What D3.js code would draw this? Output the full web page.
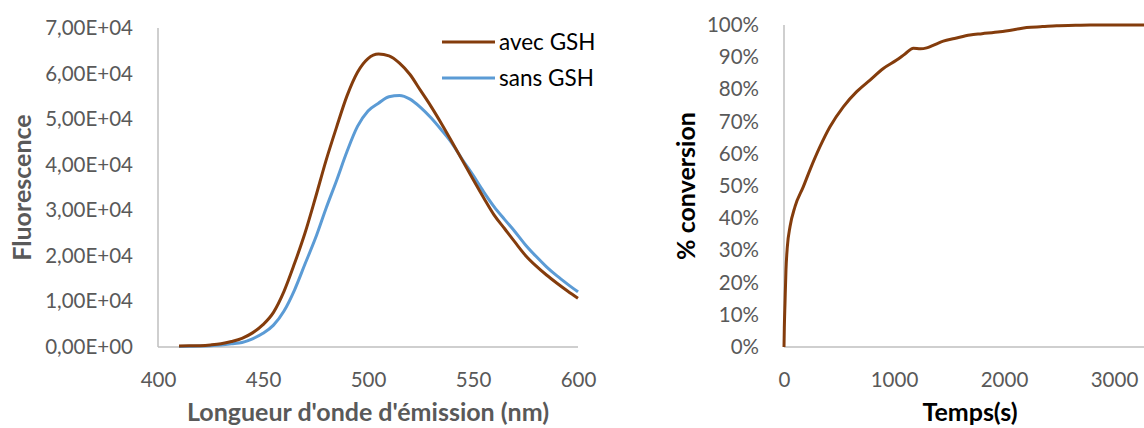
<!DOCTYPE html>
<html>
<head>
<meta charset="utf-8">
<script src="https://cdn.jsdelivr.net/npm/d3@7"></script>
<style>
  html, body { margin: 0; padding: 0; background: #fff; }
  svg { display: block; }
  text { font-family: Lato, "Open Sans", sans-serif; }
</style>
</head>
<body>
<svg id="chart" width="1144" height="428"></svg>
<script>
// ---------- Data: left panel (fluorescence spectra) ----------
const wavelengths = [410,415,420,425,430,435,440,445,450,455,460,465,470,475,480,485,490,495,500,505,510,515,520,525,530,535,540,545,550,555,560,565,570,575,580,585,590,595,600];
const avecGSH = [200,250,300,450,700,1200,1900,3100,4900,7600,12200,18300,25000,32800,40900,48200,55100,60300,63300,64300,63900,62300,59800,56300,52800,49000,45000,40900,36800,32800,29000,26000,23000,20100,17800,15800,14000,12300,10700];
const sansGSH = [100,150,200,300,450,700,1000,1800,3000,4800,7900,12500,18200,23900,30400,36500,42900,48400,51800,53500,54900,55200,54400,52600,50300,47600,44700,41100,37700,34100,30800,28000,25300,22400,19900,17600,15600,13800,12100];
const seriesNames = ["avec GSH", "sans GSH"];
const fluoTicks = [0,10000,20000,30000,40000,50000,60000,70000];
const lambdaTicks = [400,450,500,550,600];

// ---------- Data: right panel (conversion vs time) ----------
const times = [0,3,9,18,30,55,100,176,236,327,418,539,661,782,903,1024,1100,1176,1240,1297,1350,1448,1550,1691,1800,1964,2100,2206,2350,2479,2650,2782,3000,3236,3500];
const conversion = [0,6,13.5,24,31,37.4,43.6,49.8,55,62.2,68.4,74.6,79.3,82.9,86.5,89.1,91,92.8,92.6,92.9,93.6,95,95.8,96.9,97.3,97.9,98.6,99.2,99.5,99.8,99.9,100,100,100,100];
const convTicks = [0,10,20,30,40,50,60,70,80,90,100];
const timeTicks = [0,1000,2000,3000];

const colors = ["#843C0C", "#5B9BD5"];
const axisColor = "#BFBFBF";
const labelColor = "#595959";
const tickFont = "20.5px";
const titleFont = "25px";

const svg = d3.select("#chart");

function sci(d) {
  if (d === 0) return "0,00E+00";
  const e = Math.floor(Math.log10(d));
  const m = d / Math.pow(10, e);
  return m.toFixed(2).replace(".", ",") + "E+" + String(e).padStart(2, "0");
}

function styleAxis(g) {
  g.select(".domain").remove();
  g.selectAll(".tick line").remove();
  g.selectAll(".tick text").attr("fill", labelColor).style("font-size", tickFont).style("font-family", "Lato, sans-serif");
}

// ---------- Left panel ----------
const L = { left: 158, right: 578, top: 28, bottom: 347 };
const xL = d3.scaleLinear().domain([400, 600]).range([L.left, L.right]);
const yL = d3.scaleLinear().domain([0, 70000]).range([L.bottom, L.top]);

const gL = svg.append("g");
gL.append("line").attr("x1", L.left).attr("x2", L.left).attr("y1", L.top).attr("y2", L.bottom).attr("stroke", axisColor).attr("stroke-width", 1.5);
gL.append("line").attr("x1", L.left).attr("x2", L.right).attr("y1", L.bottom).attr("y2", L.bottom).attr("stroke", axisColor).attr("stroke-width", 1.5);

gL.append("g").attr("transform", `translate(${L.left - 22},0)`)
  .call(d3.axisLeft(yL).tickValues(fluoTicks).tickFormat(sci).tickSize(0))
  .call(styleAxis);
gL.append("g").attr("transform", `translate(0,${L.bottom + 22})`)
  .call(d3.axisBottom(xL).tickValues(lambdaTicks).tickFormat(d3.format("d")).tickSize(0))
  .call(styleAxis);

const lineL = (vals) => d3.line().x((d, i) => xL(wavelengths[i])).y(d => yL(d)).curve(d3.curveMonotoneX)(vals);
gL.append("path").attr("d", lineL(sansGSH)).attr("fill", "none").attr("stroke", colors[1]).attr("stroke-width", 3).attr("stroke-linejoin", "round");
gL.append("path").attr("d", lineL(avecGSH)).attr("fill", "none").attr("stroke", colors[0]).attr("stroke-width", 3).attr("stroke-linejoin", "round");

// legend
seriesNames.forEach((name, i) => {
  const y = 42 + i * 36;
  gL.append("line").attr("x1", 442).attr("x2", 495).attr("y1", y).attr("y2", y).attr("stroke", colors[i]).attr("stroke-width", 3);
  gL.append("text").attr("x", 499).attr("y", y).attr("dy", "0.35em").attr("fill", "#000").style("font-size", "22.5px").text(name);
});

// titles
gL.append("text").attr("x", (L.left + L.right) / 2).attr("y", 412).attr("dy", "0.35em").attr("text-anchor", "middle")
  .attr("fill", labelColor).style("font-size", titleFont).style("font-weight", "bold").text("Longueur d'onde d'émission (nm)");
gL.append("text").attr("transform", `translate(22,${(L.top + L.bottom) / 2}) rotate(-90)`).attr("dy", "0.35em").attr("text-anchor", "middle")
  .attr("fill", labelColor).style("font-size", titleFont).style("font-weight", "bold").text("Fluorescence");

// ---------- Right panel ----------
const R = { left: 784, right: 1169, top: 25, bottom: 347 };
const xR = d3.scaleLinear().domain([0, 3500]).range([R.left, R.right]);
const yR = d3.scaleLinear().domain([0, 100]).range([R.bottom, R.top]);

const gR = svg.append("g");
gR.append("line").attr("x1", R.left).attr("x2", R.left).attr("y1", R.top).attr("y2", R.bottom).attr("stroke", axisColor).attr("stroke-width", 1.5);
gR.append("line").attr("x1", R.left).attr("x2", R.right).attr("y1", R.bottom).attr("y2", R.bottom).attr("stroke", axisColor).attr("stroke-width", 1.5);

gR.append("g").attr("transform", `translate(${R.left - 22},0)`)
  .call(d3.axisLeft(yR).tickValues(convTicks).tickFormat(d => d + "%").tickSize(0))
  .call(styleAxis);
gR.append("g").attr("transform", `translate(0,${R.bottom + 22})`)
  .call(d3.axisBottom(xR).tickValues(timeTicks).tickFormat(d3.format("d")).tickSize(0))
  .call(styleAxis);

const lineR = d3.line().x((d, i) => xR(times[i])).y(d => yR(d)).curve(d3.curveMonotoneX);
gR.append("path").attr("d", lineR(conversion)).attr("fill", "none").attr("stroke", colors[0]).attr("stroke-width", 3).attr("stroke-linejoin", "round");

gR.append("text").attr("x", 970).attr("y", 412).attr("dy", "0.35em").attr("text-anchor", "middle")
  .attr("fill", "#000").style("font-size", titleFont).style("font-weight", "bold").text("Temps(s)");
gR.append("text").attr("transform", `translate(686,${(R.top + R.bottom) / 2}) rotate(-90)`).attr("dy", "0.35em").attr("text-anchor", "middle")
  .attr("fill", "#000").style("font-size", titleFont).style("font-weight", "bold").text("% conversion");
</script>
</body>
</html>
